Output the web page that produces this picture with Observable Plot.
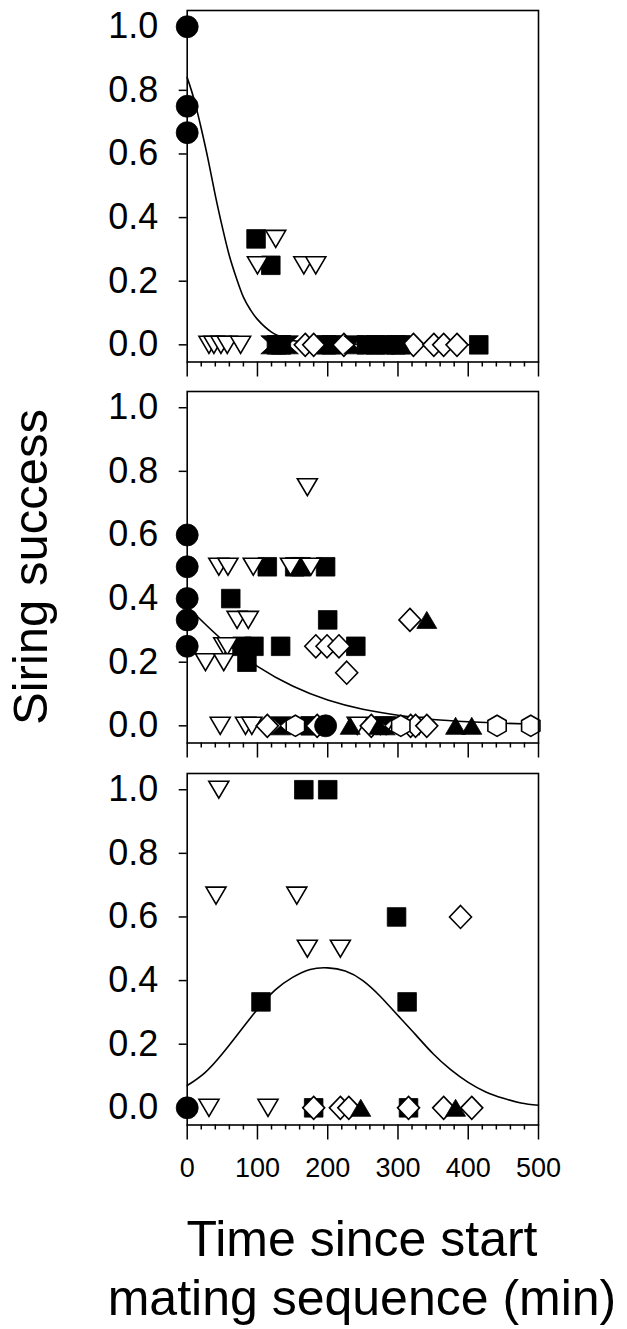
<!DOCTYPE html>
<html>
<head>
<meta charset="utf-8">
<script src="https://cdn.jsdelivr.net/npm/d3@7"></script>
<script src="https://cdn.jsdelivr.net/npm/@observablehq/plot@0.6"></script>
<style>
  html, body { margin: 0; padding: 0; background: #fff; }
  #wrap { position: relative; width: 627px; height: 1329px; background: #fff; font-family: "Liberation Sans", Arial, sans-serif; color: #000; overflow: hidden; }
  #wrap svg { position: absolute; left: 0; }
  .ytitle { position: absolute; left: -170px; top: 537px; width: 400px; height: 60px; line-height: 60px; text-align: center; font-size: 49px; transform: rotate(-90deg); white-space: nowrap; }
  .xtitle { position: absolute; left: 62px; top: 1210px; width: 600px; line-height: 59px; text-align: center; font-size: 50px; white-space: nowrap; }
</style>
</head>
<body>
<div id="wrap">
  <div class="ytitle">Siring success</div>
  <div class="xtitle">Time since start<br>mating sequence (min)</div>
</div>
<script>
// ---------- axis ticks ----------
const xMajorTicks = [0, 100, 200, 300, 400, 500];
const xMinorTicks = [20, 40, 60, 80, 120, 140, 160, 180, 220, 240, 260, 280, 320, 340, 360, 380, 420, 440, 460, 480];
const yTicks = [0, 0.2, 0.4, 0.6, 0.8, 1.0];

// ---------- panel 1 (top) : [time, siring success] ----------
const p1Circles = [[0, 1.0], [0, 0.75], [0, 0.667]];
const p1Squares = [[98, 0.333], [119, 0.25], [127, 0], [134, 0], [198, 0], [205, 0], [255, 0], [268, 0], [282, 0], [297, 0], [304, 0], [415, 0]];
const p1TriDown = [[126, 0.333], [100, 0.25], [166, 0.25], [183, 0.25], [31, 0], [38, 0], [48, 0], [57, 0], [76, 0]];
const p1Diamonds = [[168, 0], [180, 0], [223, 0], [322, 0], [351, 0], [365, 0], [384, 0]];
const p1TriUp = [[304, 0]];
const p1Bowties = [[119, 0], [133, 0], [144, 0], [237, 0]];
const p1Hexagons = [];
const p1CurveX = [0, 10, 20, 30, 40, 50, 60, 70, 80, 90, 100, 120, 140, 160, 200, 250, 300, 350, 410];
const p1CurveY = [0.84, 0.77, 0.68, 0.58, 0.47, 0.37, 0.28, 0.21, 0.15, 0.11, 0.08, 0.04, 0.02, 0.01, 0.004, 0.002, 0.001, 0.0, 0.0];

// ---------- panel 2 (middle) ----------
const p2Circles = [[0, 0.6], [0, 0.5], [0, 0.4], [0, 0.333], [0, 0.25], [197, 0]];
const p2Squares = [[114, 0.5], [153, 0.5], [162, 0.5], [197, 0.5], [62, 0.4], [200, 0.333], [78, 0.25], [95, 0.25], [133, 0.25], [240, 0.25], [85, 0.2], [175, 0]];
const p2TriDown = [[171, 0.75], [45, 0.5], [58, 0.5], [94, 0.5], [147, 0.5], [176, 0.5], [71, 0.333], [87, 0.333], [52, 0.25], [57, 0.25], [26, 0.2], [52, 0.2], [47, 0], [83, 0], [92, 0], [242, 0], [275, 0], [283, 0], [330, 0]];
const p2Diamonds = [[183, 0.25], [199, 0.25], [216, 0.25], [227, 0.167], [317, 0.333], [114, 0], [185, 0], [262, 0], [318, 0], [325, 0], [341, 0]];
const p2TriUp = [[341, 0.333], [232, 0], [273, 0], [382, 0], [405, 0]];
const p2Bowties = [[133, 0], [282, 0]];
const p2Hexagons = [[154, 0], [304, 0], [441, 0], [489, 0]];
const p2CurveX = [0, 50, 100, 150, 200, 250, 300, 350, 400, 450, 500];
const p2CurveY = [0.375, 0.27, 0.187, 0.125, 0.081, 0.052, 0.033, 0.02, 0.013, 0.008, 0.005];

// ---------- panel 3 (bottom) ----------
const p3Circles = [[0, 0]];
const p3Squares = [[166, 1.0], [200, 1.0], [298, 0.6], [105, 0.333], [313, 0.333], [180, 0], [315, 0]];
const p3TriDown = [[45, 1.0], [41, 0.667], [156, 0.667], [171, 0.5], [218, 0.5], [31, 0], [115, 0]];
const p3Diamonds = [[389, 0.6], [180, 0], [218, 0], [230, 0], [315, 0], [365, 0], [405, 0]];
const p3TriUp = [[247, 0], [382, 0]];
const p3Bowties = [];
const p3Hexagons = [];
const p3CurveX = [0, 25, 50, 75, 100, 125, 150, 175, 200, 225, 250, 275, 300, 325, 350, 375, 400, 425, 450, 475, 500];
const p3CurveY = [0.07, 0.11, 0.17, 0.24, 0.31, 0.37, 0.41, 0.435, 0.44, 0.43, 0.4, 0.35, 0.29, 0.23, 0.17, 0.12, 0.08, 0.05, 0.03, 0.015, 0.008];

// ---------- custom marker shapes ----------
const symCircle = { draw(c) { c.moveTo(11, 0); c.arc(0, 0, 11, 0, 2 * Math.PI); c.closePath(); } };
const symSquare = { draw(c) { c.rect(-9.3, -9.3, 18.6, 18.6); } };
const symTriDown = { draw(c) { c.moveTo(-10, -8.5); c.lineTo(10, -8.5); c.lineTo(0, 8.5); c.closePath(); } };
const symTriUp = { draw(c) { c.moveTo(-10, 8.5); c.lineTo(10, 8.5); c.lineTo(0, -8.5); c.closePath(); } };
const symDiamond = { draw(c) { c.moveTo(0, -11.5); c.lineTo(11, 0); c.lineTo(0, 11.5); c.lineTo(-11, 0); c.closePath(); } };
const symHexagon = { draw(c) {
  const R = 10.6;
  for (let i = 0; i < 6; i++) {
    const a = Math.PI / 2 + i * Math.PI / 3;
    const px = R * Math.cos(a), py = R * Math.sin(a);
    if (i === 0) c.moveTo(px, py); else c.lineTo(px, py);
  }
  c.closePath();
} };
const symBowtie = { draw(c) { c.moveTo(-10, -9); c.lineTo(10, -9); c.lineTo(-10, 9); c.lineTo(10, 9); c.closePath(); } };

const X = d => d[0], Y = d => d[1];
function dots(arr, sym, open) {
  return Plot.dot(arr, {
    x: X, y: Y, symbol: sym, r: 11,
    fill: open ? "white" : "black",
    stroke: "black",
    strokeWidth: open ? 1.6 : 0.8
  });
}

function panel(cfg) {
  const curve = cfg.curveX.map((x, i) => ({x, y: cfg.curveY[i]}));
  const svg = Plot.plot({
    width: 627,
    height: cfg.height,
    marginLeft: 186.7,
    marginRight: 89,
    marginTop: 10,
    marginBottom: cfg.height - 10 - 351.5,
    x: {domain: [0, 500], axis: null},
    y: {domain: [-0.054, 1.051], axis: null},
    style: {fontFamily: "Liberation Sans, Arial, sans-serif", color: "black", background: "transparent", overflow: "visible"},
    marks: [
      Plot.axisY({ticks: yTicks, tickSize: 8, tickPadding: 21, tickFormat: d => d.toFixed(1), fontSize: 36, label: null, strokeWidth: 1.5}),
      Plot.axisX({ticks: xMinorTicks, tickSize: 5, fill: "none", label: null, strokeWidth: 1.5}),
      cfg.labels
        ? Plot.axisX({ticks: xMajorTicks, tickSize: 15, tickPadding: 18, fontSize: 27, label: null, strokeWidth: 1.5})
        : Plot.axisX({ticks: xMajorTicks, tickSize: 15, fill: "none", label: null, strokeWidth: 1.5}),
      Plot.line(curve, {x: "x", y: "y", curve: "natural", stroke: "black", strokeWidth: 1.6}),
      dots(cfg.squares, symSquare, false),
      dots(cfg.triDown, symTriDown, true),
      dots(cfg.diamonds, symDiamond, true),
      dots(cfg.triUp, symTriUp, false),
      dots(cfg.hexagons, symHexagon, true),
      dots(cfg.bowties, symBowtie, false),
      dots(cfg.circles, symCircle, false),
      Plot.frame({stroke: "black", strokeWidth: 1.6})
    ]
  });
  svg.style.top = cfg.top + "px";
  document.getElementById("wrap").appendChild(svg);
}

panel({top: 0, height: 381.5, labels: false,
  circles: p1Circles, squares: p1Squares, triDown: p1TriDown, diamonds: p1Diamonds, triUp: p1TriUp, bowties: p1Bowties, hexagons: p1Hexagons,
  curveX: p1CurveX, curveY: p1CurveY});
panel({top: 381, height: 381.5, labels: false,
  circles: p2Circles, squares: p2Squares, triDown: p2TriDown, diamonds: p2Diamonds, triUp: p2TriUp, bowties: p2Bowties, hexagons: p2Hexagons,
  curveX: p2CurveX, curveY: p2CurveY});
panel({top: 763, height: 431.5, labels: true,
  circles: p3Circles, squares: p3Squares, triDown: p3TriDown, diamonds: p3Diamonds, triUp: p3TriUp, bowties: p3Bowties, hexagons: p3Hexagons,
  curveX: p3CurveX, curveY: p3CurveY});
</script>
</body>
</html>
